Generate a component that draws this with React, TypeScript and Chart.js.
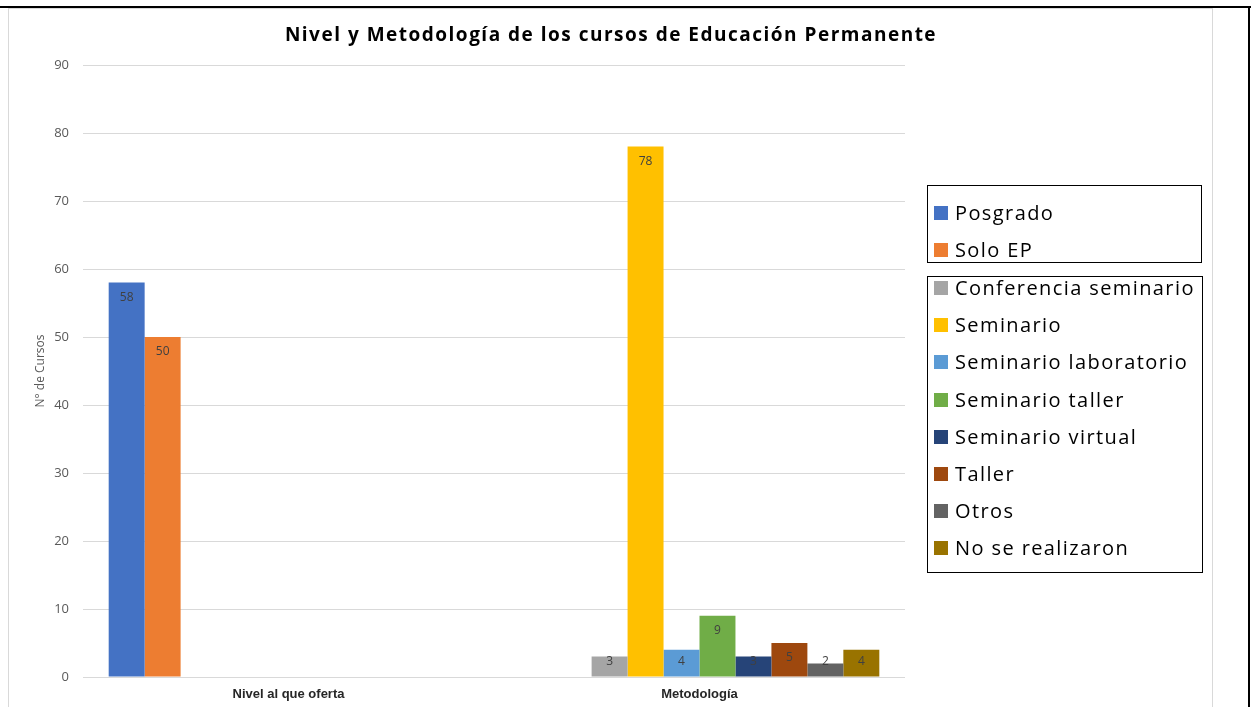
import React, { useEffect, useRef } from "react";
import { Chart, registerables } from "chart.js";

Chart.register(...registerables);

const chartTitle = "Nivel y Metodología de los cursos de Educación Permanente";
const yAxisTitle = "N° de Cursos";
const categories = ["Nivel al que oferta", "Metodología"];

const seriesNames = [
  "Posgrado",
  "Solo EP",
  "Conferencia seminario",
  "Seminario",
  "Seminario laboratorio",
  "Seminario taller",
  "Seminario virtual",
  "Taller",
  "Otros",
  "No se realizaron",
];

const seriesColors = [
  "#4472C4",
  "#ED7D31",
  "#A5A5A5",
  "#FFC000",
  "#5B9BD5",
  "#70AD47",
  "#264478",
  "#9E480E",
  "#636363",
  "#997300",
];

const posgrado = [58, null];
const soloEP = [50, null];
const conferenciaSeminario = [null, 3];
const seminario = [null, 78];
const seminarioLaboratorio = [null, 4];
const seminarioTaller = [null, 9];
const seminarioVirtual = [null, 3];
const taller = [null, 5];
const otros = [null, 2];
const noSeRealizaron = [null, 4];

const seriesValues = [
  posgrado,
  soloEP,
  conferenciaSeminario,
  seminario,
  seminarioLaboratorio,
  seminarioTaller,
  seminarioVirtual,
  taller,
  otros,
  noSeRealizaron,
];

const yTicksMin = 0;
const yTicksMax = 90;
const yTicksStep = 10;

const legendGroups = [
  [0, 1],
  [2, 3, 4, 5, 6, 7, 8, 9],
];

const insideEndLabels = {
  id: "insideEndLabels",
  afterDatasetsDraw(chart: any) {
    const ctx = chart.ctx;
    ctx.save();
    ctx.font = "12px 'Open Sans'";
    ctx.fillStyle = "#404040";
    ctx.textAlign = "center";
    ctx.textBaseline = "middle";
    chart.data.datasets.forEach((ds: any, i: number) => {
      const meta = chart.getDatasetMeta(i);
      meta.data.forEach((bar: any, j: number) => {
        const v = ds.data[j];
        if (v === null || v === undefined) return;
        const cy = Math.min(bar.y + 14.5, bar.base - 14.5);
        ctx.fillText(String(v), bar.x, cy);
      });
    });
    ctx.restore();
  },
};

function ChartCanvas() {
  const ref = useRef<HTMLCanvasElement | null>(null);
  useEffect(() => {
    if (!ref.current) return;
    const chart = new Chart(ref.current, {
      type: "bar",
      data: {
        labels: categories,
        datasets: seriesNames.map((name, i) => ({
          label: name,
          data: seriesValues[i],
          backgroundColor: seriesColors[i],
          borderWidth: 0,
          categoryPercentage: 0.875,
          barPercentage: 1,
        })),
      },
      options: {
        responsive: false,
        animation: false,
        devicePixelRatio: 1,
        layout: { padding: { left: 1, right: 353, top: 65, bottom: 0 } },
        plugins: {
          legend: { display: false },
          tooltip: { enabled: false },
          title: { display: false },
        },
        scales: {
          x: {
            grid: { display: false, drawTicks: false },
            border: { display: false },
            ticks: {
              padding: 10,
              color: "#262626",
              font: { family: "'Liberation Sans'", size: 13, weight: "bold" },
            },
            afterFit: (scale: any) => {
              scale.height = 30;
            },
          },
          y: {
            min: yTicksMin,
            max: yTicksMax,
            ticks: {
              stepSize: yTicksStep,
              padding: 14,
              color: "#595959",
              font: { family: "'Open Sans'", size: 13 },
            },
            grid: { color: "#D9D9D9", lineWidth: 1, drawTicks: false },
            border: { display: false },
            title: {
              display: true,
              text: yAxisTitle,
              color: "#595959",
              font: { family: "'Open Sans'", size: 12 },
              padding: { top: 32, bottom: 0 },
            },
            afterFit: (scale: any) => {
              scale.width = 82;
            },
          },
        },
      },
      plugins: [insideEndLabels],
    } as any);
    return () => chart.destroy();
  }, []);
  return (
    <canvas
      ref={ref}
      width={1258}
      height={707}
      style={{ position: "absolute", left: 0, top: 0, width: 1258, height: 707 }}
    />
  );
}

function Legend() {
  const boxes = [
    { left: 927, top: 185, width: 275, height: 78, firstCenter: 212 },
    { left: 927, top: 276, width: 276, height: 297, firstCenter: 287 },
  ];
  const rowStep = 37.2;
  return (
    <>
      {legendGroups.map((group, g) => {
        const b = boxes[g];
        return (
          <div
            key={g}
            style={{
              position: "absolute",
              left: b.left,
              top: b.top,
              width: b.width,
              height: b.height,
              border: "1px solid #000",
              boxSizing: "border-box",
              background: "#fff",
            }}
          >
            {group.map((idx, k) => {
              const center = b.firstCenter - b.top + k * rowStep;
              return (
                <div
                  key={idx}
                  style={{
                    position: "absolute",
                    left: 6,
                    top: center - 18,
                    height: 36,
                    display: "flex",
                    alignItems: "center",
                    whiteSpace: "nowrap",
                  }}
                >
                  <span
                    style={{
                      display: "inline-block",
                      width: 14,
                      height: 14,
                      background: seriesColors[idx],
                      marginRight: 7,
                    }}
                  />
                  <span
                    style={{
                      fontFamily: "'Open Sans'",
                      fontSize: 20,
                      letterSpacing: "1.4px",
                      color: "#000",
                      lineHeight: "36px",
                    }}
                  >
                    {seriesNames[idx]}
                  </span>
                </div>
              );
            })}
          </div>
        );
      })}
    </>
  );
}

export default function App() {
  useEffect(() => {
    document.body.style.margin = "0";
  }, []);
  return (
    <div
      style={{
        position: "relative",
        width: 1258,
        height: 707,
        overflow: "hidden",
        background: "#fff",
      }}
    >
      <div
        style={{
          position: "absolute",
          left: 8,
          top: 8,
          width: 1205,
          height: 720,
          border: "1px solid #D9D9D9",
          boxSizing: "border-box",
        }}
      />
      <div style={{ position: "absolute", left: 0, top: 6, width: 1251, height: 2, background: "#000" }} />
      <div style={{ position: "absolute", left: 1248, top: 6, width: 2, height: 701, background: "#000" }} />
      <ChartCanvas />
      <div
        style={{
          position: "absolute",
          left: 0,
          width: 1222,
          top: 20,
          textAlign: "center",
          fontFamily: "'Open Sans'",
          fontWeight: "bold",
          fontSize: 19,
          letterSpacing: "1.5px",
          color: "#000",
          lineHeight: "28px",
          whiteSpace: "nowrap",
        }}
      >
        {chartTitle}
      </div>
      <Legend />
    </div>
  );
}
